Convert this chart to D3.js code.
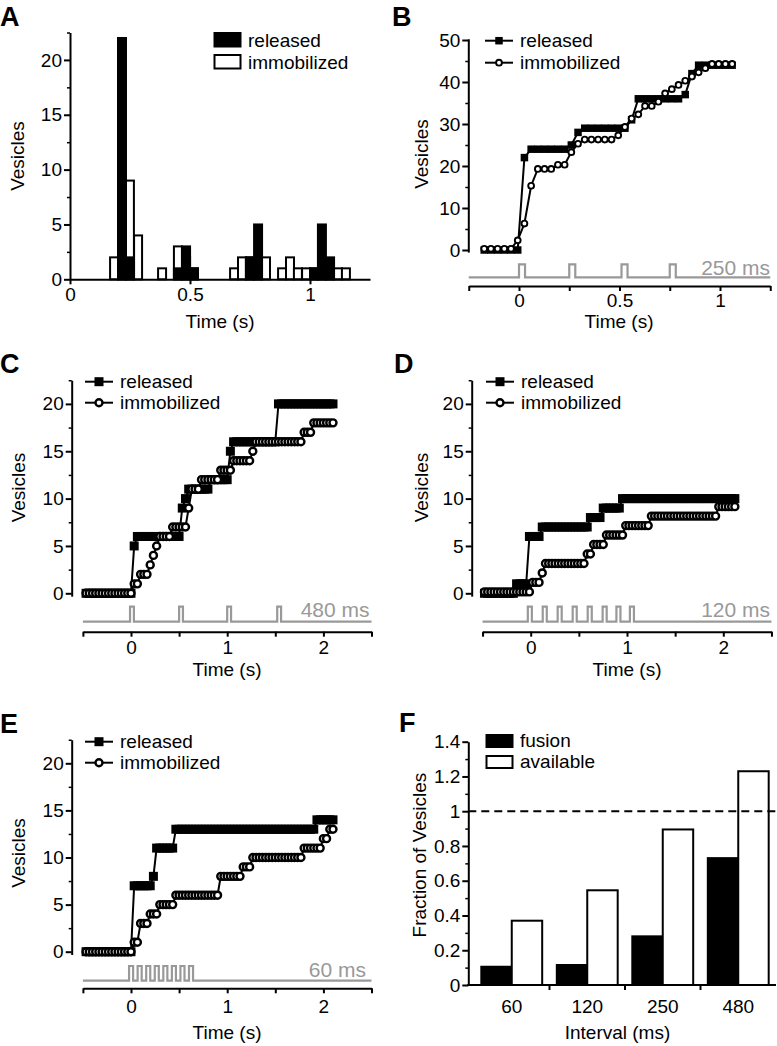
<!DOCTYPE html>
<html><head><meta charset="utf-8">
<script src="https://cdn.jsdelivr.net/npm/d3@7"></script>
<style>
html,body{margin:0;padding:0;background:#fff}
svg{display:block;background:#fff}
</style></head><body>
<svg id="fig" width="777" height="1046"></svg>
<script>
// ================= DATA =================
// Panel A: histogram (bins of one frame, 1/30 s)
const histBinStarts = [0.167,0.2,0.233,0.267,0.3,0.333,0.367,0.4,0.433,0.467,0.5,0.533,0.567,0.6,0.633,0.667,0.7,0.733,0.767,0.8,0.833,0.867,0.9,0.933,0.967,1.0,1.033,1.067,1.1,1.133];
const histBinWidth = 0.0333;
const histReleased    = [0,22,2,0,0,0,0,0,1,3,1,0,0,0,0,0,0,2,5,0,0,0,0,0,0,1,5,2,0,0];
const histImmobilized = [2,4,9,4,0,0,1,0,3,2,1,0,0,0,0,1,2,2,1,2,0,1,2,1,1,1,1,1,1,1];
const histXTicks = [0,0.5,1];
const histYTicks = [0,5,10,15,20];
const histYMinor = [2.5,7.5,12.5,17.5,22.5];

// Frame period of the cumulative traces (s)
const framePeriod = 1/30;

// Panel B (250 ms)
const bStart = -0.173;
const bReleased = [0,0,0,0,0,0,22,24,24,24,24,24,24,25,28,29,29,29,29,29,29,29,31,36,36,36,36,36,36,36,37,42,44,44,44,44,44,44];
const bImmobilized = [0.3,0.3,0.3,0.3,0.3,2.3,6.3,15.3,19.3,19.3,19.3,20.3,20.3,23.3,25.3,26.3,26.3,26.3,26.3,26.3,27.3,29.3,31.3,32.3,34.3,34.3,35.3,37.3,38.3,39.3,40.3,41.3,42.3,43.3,44.3,44.3,44.3,44.3];
const bPulses = [0,0.25,0.51,0.75];
const bPulseWidth = 0.03;
const bLabel = "250 ms";

// Panel C (480 ms)
const cStart = -0.467;
const cReleased = [0,0,0,0,0,0,0,0,0,0,0,0,0,0,0,
  5,
  6,6,6,6,6,6,6,6,6,6,6,6,6,6,
  9,10,
  11,11,11,11,11,11,11,
  12,12,12,12,12,12,
  15,
  16,16,16,16,16,16,16,16,16,16,16,16,16,16,
  20,20,20,20,20,20,20,20,20,20,20,20,20,20,20,20,20,20];
const cImmobilized = [0,0,0,0,0,0,0,0,0,0,0,0,0,0,0,
  1,1,2,2,2,3,4,5,
  6,6,6,6,7,7,7,7,7,9,11,11,11,
  12,12,12,12,12,12,13,13,13,13,14,14,14,14,14,14,15,
  16,16,16,16,16,16,16,16,16,16,16,16,16,16,16,
  17,17,17,
  18,18,18,18,18,18,18];
const cPulses = [-0.01,0.5,1.0,1.52];
const cPulseWidth = 0.04;
const cLabel = "480 ms";

// Panel D (120 ms)
const dStart = -0.48;
const dReleased = [0,0,0,0,0,0,0,0,0,0,
  1,1,1,1,
  6,6,6,6,
  7,7,7,7,7,7,7,7,7,7,7,7,7,7,7,
  8,8,8,8,
  9,9,9,9,9,9,
  10,10,10,10,10,10,10,10,10,10,10,10,10,10,10,10,10,10,10,10,10,10,10,10,10,10,10,10,10,10,10,10,10,10,10,10];
const dImmobilized = [0.15,0.15,0.15,0.15,0.15,0.15,0.15,0.15,0.15,0.15,0.15,0.15,0.15,0.15,0.15,
  1.15,1.15,1.15,
  2.15,
  3.15,3.15,3.15,3.15,3.15,3.15,3.15,3.15,3.15,3.15,3.15,3.15,3.15,
  4.15,4.15,
  5.15,5.15,5.15,5.15,
  6.15,6.15,6.15,6.15,6.15,6.15,
  7.15,7.15,7.15,7.15,7.15,7.15,7.15,7.15,
  8.15,8.15,8.15,8.15,8.15,8.15,8.15,8.15,8.15,8.15,8.15,8.15,8.15,8.15,8.15,8.15,8.15,8.15,8.15,8.15,8.15,
  9.15,9.15,9.15,9.15,9.15,9.15];
const dPulses = [-0.03,0.125,0.28,0.436,0.592,0.747,0.89,1.03];
const dPulseWidth = 0.042;
const dLabel = "120 ms";

// Panel E (60 ms)
const eStart = -0.467;
const eReleased = [0,0,0,0,0,0,0,0,0,0,0,0,0,0,0,
  7,7,7,7,7,7,
  8,
  11,11,11,11,11,11,
  13,13,13,13,13,13,13,13,13,13,13,13,13,13,13,13,13,13,13,13,13,13,13,13,13,13,13,13,13,13,13,13,13,13,13,13,13,13,13,13,13,13,13,13,
  14,14,14,14,14,14];
const eImmobilized = [0,0,0,0,0,0,0,0,0,0,0,0,0,0,0,
  1,1,
  3,3,3,
  4,4,4,
  5,5,5,5,5,
  6,6,6,6,6,6,6,6,6,6,6,6,6,6,
  8,8,8,8,8,8,8,
  9,9,9,
  10,10,10,10,10,10,10,10,10,10,10,10,10,10,10,10,
  11,11,11,11,11,11,
  12,12,
  13,13];
const ePulses = [-0.02,0.069,0.158,0.247,0.336,0.425,0.514,0.603];
const ePulseWidth = 0.042;
const eLabel = "60 ms";

const stepYTicks = [0,5,10,15,20];
const stepYMinor = [2.5,7.5,12.5,17.5,22.5];
const stepXTicks = [-0.5,0,0.5,1,1.5,2,2.5];
const stepXLabels = [0,1,2];
const bYTicks = [0,10,20,30,40,50];
const bYMinor = [5,15,25,35,45];
const bXTicks = [-0.25,0,0.25,0.5,0.75,1,1.25];
const bXLabels = [0,0.5,1];

// Panel F
const intervals = ["60","120","250","480"];
const fusion    = [0.105,0.115,0.28,0.73];
const available = [0.37,0.545,0.895,1.23];
const fYTicks = [0,0.2,0.4,0.6,0.8,1,1.2,1.4];
const fYMinor = [0.1,0.3,0.5,0.7,0.9,1.1,1.3];
const fReference = 1;

const seriesNames = ["released","immobilized"];
const fSeriesNames = ["fusion","available"];

// ================= DRAWING =================
const FONT = '"Liberation Sans", Arial, Helvetica, sans-serif';
const FS = 19;
const svg = d3.select("#fig");
svg.append("rect").attr("width",777).attr("height",1046).attr("fill","#fff");

function styleAxis(g){
  g.attr("font-size",FS).attr("font-family",FONT);
  g.selectAll(".domain").attr("stroke","#000").attr("stroke-width",2);
  g.selectAll(".tick line").attr("stroke","#000").attr("stroke-width",2);
  g.selectAll("text").attr("fill","#000");
}
function yAxis(x0, y, majors, minors){
  const gm = svg.append("g").attr("transform",`translate(${x0},0)`)
    .call(d3.axisLeft(y).tickValues(minors).tickSize(3).tickSizeOuter(0).tickFormat(""));
  gm.select(".domain").remove();
  gm.selectAll(".tick line").attr("stroke","#000").attr("stroke-width",1.5);
  const g = svg.append("g").attr("transform",`translate(${x0},0)`)
    .call(d3.axisLeft(y).tickValues(majors).tickSize(6).tickPadding(2).tickSizeOuter(0).tickFormat(d=>String(d)));
  styleAxis(g);
  return g;
}
function xAxis(y0, x, ticks, labelled, labelOffset){
  const g = svg.append("g").attr("transform",`translate(0,${y0})`)
    .call(d3.axisBottom(x).tickValues(ticks).tickSize(5).tickSizeOuter(0)
      .tickFormat(d => labelled.includes(d) ? String(d) : ""));
  styleAxis(g);
  g.selectAll("text").attr("y",labelOffset).attr("dy",0);
  return g;
}
function text(x,y,str,opt={}){
  const t = svg.append("text").attr("x",x).attr("y",y).text(str)
    .attr("font-family",FONT).attr("font-size",opt.size||FS)
    .attr("text-anchor",opt.anchor||"middle").attr("fill",opt.fill||"#000");
  if(opt.bold) t.attr("font-weight","bold");
  if(opt.rotate) t.attr("transform",`rotate(-90,${x},${y})`);
  return t;
}

// Panel letters
[["A",0,26],["B",392,26],["C",0,373],["D",394,373],["E",0,733],["F",399,732]].forEach(([l,x,y])=>
  text(x,y,l,{size:27,bold:true,anchor:"start"}));

// ---------- Panel A ----------
(function(){
  const x = d3.scaleLinear().domain([0,1.25]).range([70,370]);
  const y = d3.scaleLinear().domain([0,22.5]).range([279.3,32.5]);
  const bins = histBinStarts.map((t,i)=>({t, r:histReleased[i], m:histImmobilized[i]}));
  const g = svg.append("g");
  g.selectAll("rect.imm").data(bins.filter(d=>d.m>0)).join("rect")
    .attr("x",d=>x(d.t)).attr("width",d=>x(d.t+histBinWidth)-x(d.t))
    .attr("y",d=>y(d.m)).attr("height",d=>y(0)-y(d.m))
    .attr("fill","#fff").attr("stroke","#000").attr("stroke-width",2);
  g.selectAll("rect.rel").data(bins.filter(d=>d.r>0)).join("rect")
    .attr("x",d=>x(d.t)).attr("width",d=>x(d.t+histBinWidth)-x(d.t))
    .attr("y",d=>y(d.r)).attr("height",d=>y(0)-y(d.r))
    .attr("fill","#000").attr("stroke","#000").attr("stroke-width",2);
  yAxis(70, y, histYTicks, histYMinor);
  xAxis(279.3, x, histXTicks, histXTicks, 22);
  text(220,328,"Time (s)");
  text(24,156,"Vesicles",{rotate:true});
  // legend
  svg.append("rect").attr("x",214.5).attr("y",33).attr("width",26).attr("height",13.5).attr("fill","#000").attr("stroke","#000").attr("stroke-width",2);
  svg.append("rect").attr("x",214.5).attr("y",55).attr("width",26).attr("height",13.5).attr("fill","#fff").attr("stroke","#000").attr("stroke-width",2);
  text(248,47,seriesNames[0],{anchor:"start"});
  text(248,69,seriesNames[1],{anchor:"start"});
})();

// ---------- step panels ----------
function stepPanel(p){
  const x = d3.scaleLinear().domain([0,1]).range([p.x0, p.x0+p.kx]);
  const y = d3.scaleLinear().domain([0,1]).range([p.y0, p.y0-p.ky]);
  const rel = p.released.map((v,i)=>({t:p.start+i*framePeriod, v}));
  const imm = p.immobilized.map((v,i)=>({t:p.start+i*framePeriod, v}));
  const sq = p.sq, cr = p.cr, cw = p.cw;
  // axes
  const yAx = d3.scaleLinear().domain([p.yMin,p.yMax]).range([y(p.yMin),y(p.yMax)]);
  yAxis(p.yAxisX, yAx, p.yTicks, p.yMinor);
  const xAx = d3.scaleLinear().domain(p.xDomain).range([x(p.xDomain[0]),x(p.xDomain[1])]);
  xAxis(p.xAxisY, xAx, p.xTicks, p.xLabels, p.tickLabelOffset);
  // stimulus trace
  const tr = [[p.xDomain[0],0]];
  p.pulses.forEach(s=>{tr.push([s,0],[s,1],[s+p.pulseWidth,1],[s+p.pulseWidth,0]);});
  tr.push([p.xDomain[1],0]);
  svg.append("path").attr("d",d3.line().x(d=>x(d[0])).y(d=>d[1]? p.pulseTop : p.traceY)(tr))
    .attr("fill","none").attr("stroke","#999").attr("stroke-width",2.2);
  text(p.labelRight, p.labelBase, p.label, {anchor:"end", size:21, fill:"#999"});
  // released
  const line = d3.line().x(d=>x(d.t)).y(d=>y(d.v));
  svg.append("path").attr("d",line(rel)).attr("fill","none").attr("stroke","#000").attr("stroke-width",2);
  svg.append("g").selectAll("rect").data(rel).join("rect")
    .attr("x",d=>x(d.t)-sq/2).attr("y",d=>y(d.v)-sq/2).attr("width",sq).attr("height",sq).attr("fill","#000");
  // immobilized
  svg.append("path").attr("d",line(imm)).attr("fill","none").attr("stroke","#000").attr("stroke-width",2);
  svg.append("g").selectAll("circle").data(imm).join("circle")
    .attr("cx",d=>x(d.t)).attr("cy",d=>y(d.v)).attr("r",cr)
    .attr("fill","#fff").attr("stroke","#000").attr("stroke-width",cw);
  // legend
  const lx = p.legendX;
  p.legendY.forEach((ly,i)=>{
    svg.append("line").attr("x1",lx).attr("x2",lx+28).attr("y1",ly).attr("y2",ly).attr("stroke","#000").attr("stroke-width",2);
    if(i===0) svg.append("rect").attr("x",lx+14-sq/2).attr("y",ly-sq/2).attr("width",sq).attr("height",sq).attr("fill","#000");
    else svg.append("circle").attr("cx",lx+14).attr("cy",ly).attr("r",cr).attr("fill","#fff").attr("stroke","#000").attr("stroke-width",cw);
    text(lx+35, ly+6.5, seriesNames[i], {anchor:"start"});
  });
  text(p.titleX, p.titleY, "Time (s)");
  text(p.vesX, p.vesY, "Vesicles", {rotate:true});
}

stepPanel({released:bReleased, immobilized:bImmobilized, start:bStart, sq:7.5, cr:2.9, cw:1.9,
  x0:519, kx:201, y0:250, ky:4.2, yMin:-0.5, yMax:50.3, yAxisX:468.3,
  yTicks:bYTicks, yMinor:bYMinor, xDomain:[-0.25,1.25], xTicks:bXTicks, xLabels:bXLabels,
  xAxisY:286, tickLabelOffset:21, traceY:277.3, pulseTop:264.3, pulses:bPulses, pulseWidth:bPulseWidth,
  label:bLabel, labelRight:770, labelBase:275, legendX:485, legendY:[40.7,62.7],
  titleX:619, titleY:328, vesX:428, vesY:154});

stepPanel({released:cReleased, immobilized:cImmobilized, start:cStart, sq:9, cr:3.5, cw:2.4,
  x0:131, kx:96.2, y0:593.3, ky:9.47, yMin:-0.3, yMax:22.5, yAxisX:71.7,
  yTicks:stepYTicks, yMinor:stepYMinor, xDomain:[-0.5,2.5], xTicks:stepXTicks, xLabels:stepXLabels,
  xAxisY:631.7, tickLabelOffset:22, traceY:621.7, pulseTop:606.7, pulses:cPulses, pulseWidth:cPulseWidth,
  label:cLabel, labelRight:369.5, labelBase:616.7, legendX:85, legendY:[381.7,402.7],
  titleX:227, titleY:676, vesX:25, vesY:487.5});

stepPanel({released:dReleased, immobilized:dImmobilized, start:dStart, sq:9, cr:3.5, cw:2.4,
  x0:530.7, kx:96.3, y0:593.3, ky:9.47, yMin:-0.3, yMax:22.5, yAxisX:471.7,
  yTicks:stepYTicks, yMinor:stepYMinor, xDomain:[-0.5,2.5], xTicks:stepXTicks, xLabels:stepXLabels,
  xAxisY:631.7, tickLabelOffset:22, traceY:621.7, pulseTop:606.7, pulses:dPulses, pulseWidth:dPulseWidth,
  label:dLabel, labelRight:770, labelBase:616.7, legendX:486, legendY:[381.7,402.7],
  titleX:627, titleY:676, vesX:428, vesY:487.5});

stepPanel({released:eReleased, immobilized:eImmobilized, start:eStart, sq:9, cr:3.5, cw:2.4,
  x0:131, kx:96.2, y0:951.7, ky:9.42, yMin:-0.3, yMax:22.5, yAxisX:71.7,
  yTicks:stepYTicks, yMinor:stepYMinor, xDomain:[-0.5,2.5], xTicks:stepXTicks, xLabels:stepXLabels,
  xAxisY:988.3, tickLabelOffset:24.7, traceY:980.7, pulseTop:966, pulses:ePulses, pulseWidth:ePulseWidth,
  label:eLabel, labelRight:366, labelBase:976.7, legendX:85, legendY:[741.7,762.7],
  titleX:227, titleY:1039, vesX:25, vesY:853});

// ---------- Panel F ----------
(function(){
  const x0 = d3.scaleBand().domain(intervals).range([474,776]).paddingInner(0).paddingOuter(0);
  const x1 = d3.scaleBand().domain(fSeriesNames).range([0,x0.bandwidth()]).paddingInner(0).paddingOuter(0.24);
  const y = d3.scaleLinear().domain([0,1.4]).range([985,741.7]);
  const rows = intervals.map((c,i)=>({c, fusion:fusion[i], available:available[i]}));
  const g = svg.append("g");
  rows.forEach(r=>{
    fSeriesNames.forEach(s=>{
      g.append("rect").attr("x",x0(r.c)+x1(s)).attr("width",x1.bandwidth())
        .attr("y",y(r[s])).attr("height",y(0)-y(r[s]))
        .attr("fill", s==="fusion" ? "#000" : "#fff").attr("stroke","#000").attr("stroke-width",2);
    });
  });
  svg.append("line").attr("x1",468.3).attr("x2",777).attr("y1",y(fReference)).attr("y2",y(fReference))
    .attr("stroke","#000").attr("stroke-width",2).attr("stroke-dasharray","8,5");
  yAxis(468.3, y, fYTicks, fYMinor);
  // x axis
  svg.append("line").attr("x1",467.3).attr("x2",776).attr("y1",985).attr("y2",985).attr("stroke","#000").attr("stroke-width",2);
  const gx = svg.append("g").attr("transform","translate(0,985)")
    .call(d3.axisBottom(x0).tickSize(0).tickSizeOuter(0));
  styleAxis(gx);
  gx.select(".domain").remove();
  gx.selectAll("text").attr("y",28).attr("dy",0);
  intervals.slice(1).forEach(c=>{
    svg.append("line").attr("x1",x0(c)).attr("x2",x0(c)).attr("y1",985).attr("y2",990).attr("stroke","#000").attr("stroke-width",2);
  });
  text(617.5,1039,"Interval (ms)");
  text(426,855,"Fraction of Vesicles",{rotate:true});
  svg.append("rect").attr("x",486.5).attr("y",735).attr("width",26).attr("height",12).attr("fill","#000").attr("stroke","#000").attr("stroke-width",2);
  svg.append("rect").attr("x",486.5).attr("y",756).attr("width",26).attr("height",12).attr("fill","#fff").attr("stroke","#000").attr("stroke-width",2);
  text(520,747,fSeriesNames[0],{anchor:"start"});
  text(520,768,fSeriesNames[1],{anchor:"start"});
})();
</script>
</body></html>
